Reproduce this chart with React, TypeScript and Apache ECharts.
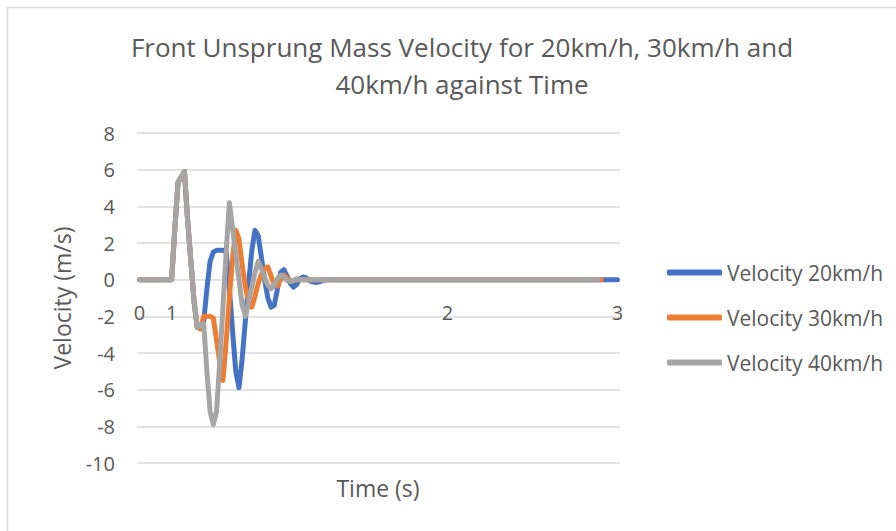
import React, { useEffect, useRef } from "react";
import * as echarts from "echarts";

const titleLines = ["Front Unsprung Mass Velocity for 20km/h, 30km/h and", "40km/h against Time"];
const seriesNames = ["Velocity 20km/h", "Velocity 30km/h", "Velocity 40km/h"];
const seriesColors = ["#4472C4", "#ED7D31", "#A5A5A5"];

// x tick labels (time, s) and the sample index at which each one sits
const timeLabels = ["0", "1", "2", "3"];
const timeLabelIndex = [0, 10, 96, 149];

const yTicks = [-10, -8, -6, -4, -2, 0, 2, 4, 6, 8];

// velocity samples (m/s), one per solver step
const velocity20 = [
  0, 0, 0, 0, 0, 0, 0, 0, 0, 0,
  0, 2.8, 5.3, 5.6, 5.9, 3.2, 1.0, -1.2, -2.6, -2.5,
  -2.3, -0.5, 1.0, 1.5, 1.6, 1.6, 1.6, 1.5, -0.5, -2.8,
  -5.0, -5.9, -4.3, -2.2, -0.2, 1.6, 2.7, 2.4, 1.2, 0.0,
  -1.0, -1.5, -1.4, -0.5, 0.4, 0.55, 0.2, -0.2, -0.4, -0.25,
  0.05, 0.15, 0.1, -0.05, -0.12, -0.15, -0.12, -0.05, 0, 0,
  0, 0, 0, 0, 0, 0, 0, 0, 0, 0,
  0, 0, 0, 0, 0, 0, 0, 0, 0, 0,
  0, 0, 0, 0, 0, 0, 0, 0, 0, 0,
  0, 0, 0, 0, 0, 0, 0, 0, 0, 0,
  0, 0, 0, 0, 0, 0, 0, 0, 0, 0,
  0, 0, 0, 0, 0, 0, 0, 0, 0, 0,
  0, 0, 0, 0, 0, 0, 0, 0, 0, 0,
  0, 0, 0, 0, 0, 0, 0, 0, 0, 0,
  0, 0, 0, 0, 0, 0, 0, 0, 0, 0,
];

const velocity30 = [
  0, 0, 0, 0, 0, 0, 0, 0, 0, 0,
  0, 2.8, 5.3, 5.6, 5.9, 3.2, 1.0, -1.2, -2.6, -2.7,
  -2.0, -2.0, -2.0, -2.1, -3.3, -4.5, -5.5, -3.4, -1.0, 1.2,
  2.7, 2.2, 0.8, -0.4, -1.2, -1.5, -0.9, -0.2, 0.3, 0.6,
  0.7, 0.2, -0.3, -0.35, 0.0, 0.25, 0.1, -0.1, -0.05, 0,
  0, 0, 0, 0, 0, 0, 0, 0, 0, 0,
  0, 0, 0, 0, 0, 0, 0, 0, 0, 0,
  0, 0, 0, 0, 0, 0, 0, 0, 0, 0,
  0, 0, 0, 0, 0, 0, 0, 0, 0, 0,
  0, 0, 0, 0, 0, 0, 0, 0, 0, 0,
  0, 0, 0, 0, 0, 0, 0, 0, 0, 0,
  0, 0, 0, 0, 0, 0, 0, 0, 0, 0,
  0, 0, 0, 0, 0, 0, 0, 0, 0, 0,
  0, 0, 0, 0, 0, 0, 0, 0, 0, 0,
  0, 0, 0, 0, 0,
];

const velocity40 = [
  0, 0, 0, 0, 0, 0, 0, 0, 0, 0,
  0, 2.8, 5.3, 5.6, 5.9, 3.2, 1.0, -1.2, -2.6, -2.5,
  -2.4, -5.0, -7.2, -7.9, -7.2, -4.5, -1.5, 1.5, 4.2, 2.8,
  1.4, 0.0, -1.4, -2.0, -1.2, -0.4, 0.4, 1.0, 0.6, 0.1,
  -0.3, -0.5, -0.3, 0.05, 0.25, 0.15, -0.05, -0.1, -0.05, 0.05,
  0, 0, 0, 0, 0, 0, 0, 0, 0, 0,
  0, 0, 0, 0, 0, 0, 0, 0, 0, 0,
  0, 0, 0, 0, 0, 0, 0, 0, 0, 0,
  0, 0, 0, 0, 0, 0, 0, 0, 0, 0,
  0, 0, 0, 0, 0, 0, 0, 0, 0, 0,
  0, 0, 0, 0, 0, 0, 0, 0, 0, 0,
  0, 0, 0, 0, 0, 0, 0, 0, 0, 0,
  0, 0, 0, 0, 0, 0, 0, 0, 0, 0,
  0, 0, 0, 0, 0, 0, 0, 0, 0, 0,
  0, 0, 0, 0,
];

const allSeries = [velocity20, velocity30, velocity40];

const FONT = "'Open Sans', 'Noto Sans', sans-serif";
const TEXT = "#595959";

export default function App() {
  const ref = useRef<HTMLDivElement>(null);

  useEffect(() => {
    if (!ref.current) return;
    const chart = echarts.init(ref.current, undefined, { renderer: "svg" });
    const labelMap: Record<number, string> = {};
    timeLabelIndex.forEach((idx, k) => (labelMap[idx] = timeLabels[k]));

    chart.setOption({
      animation: false,
      backgroundColor: "#ffffff",
      textStyle: { fontFamily: FONT },
      title: {
        text: titleLines.join("\n"),
        left: 457,
        top: 23,
        textAlign: "center",
        textStyle: {
          fontFamily: FONT,
          fontSize: 26,
          fontWeight: "normal",
          color: TEXT,
          lineHeight: 37,
        },
      },
      legend: {
        orient: "vertical",
        left: 662,
        top: 257,
        itemWidth: 55,
        itemHeight: 6,
        itemGap: 24,
        icon: "roundRect",
        data: seriesNames,
        textStyle: { fontFamily: FONT, fontSize: 21, color: TEXT, lineHeight: 21 },
      },
      grid: { left: 137, right: 276, top: 133, bottom: 68, containLabel: false },
      xAxis: {
        type: "value",
        min: -0.8,
        max: 149.8,
        axisLine: { show: false, onZero: false },
        axisTick: { show: false },
        splitLine: { show: false },
        axisLabel: {
          customValues: timeLabelIndex,
          formatter: (v: number) => labelMap[v] ?? "",
          margin: -161,
          color: TEXT,
          fontSize: 20,
          fontFamily: FONT,
        },
      },
      yAxis: {
        type: "value",
        min: yTicks[0],
        max: yTicks[yTicks.length - 1],
        interval: 2,
        axisLine: { show: false, onZero: false },
        axisTick: { show: false },
        splitLine: { lineStyle: { color: "#d9d9d9", width: 1.5 } },
        axisLabel: { color: TEXT, fontSize: 20, fontFamily: FONT, margin: 22 },
        name: "Velocity (m/s)",
        nameLocation: "middle",
        nameGap: 64,
        nameTextStyle: { color: TEXT, fontSize: 23, fontFamily: FONT },
      },
      graphic: [
        {
          type: "rect",
          shape: { x: 7.5, y: 7.5, width: 1000, height: 1000 },
          style: { fill: "none", stroke: "#d9d9d9", lineWidth: 1.5 },
          silent: true,
        },
        {
          type: "text",
          x: 378,
          y: 488,
          style: {
            text: "Time (s)",
            fontFamily: FONT,
            fontSize: 23,
            fill: TEXT,
            align: "center",
            verticalAlign: "middle",
          },
        },
      ],
      series: allSeries.map((vals, k) => ({
        name: seriesNames[k],
        type: "line",
        data: vals.map((v, i) => [i, v]),
        showSymbol: false,
        symbol: "none",
        color: seriesColors[k],
        lineStyle: { width: 5, color: seriesColors[k], cap: "round", join: "round" },
        z: 2 + k,
      })),
    });

    return () => chart.dispose();
  }, []);

  return (
    <div
      ref={ref}
      style={{ position: "fixed", left: 0, top: 0, width: 896, height: 531 }}
    />
  );
}
